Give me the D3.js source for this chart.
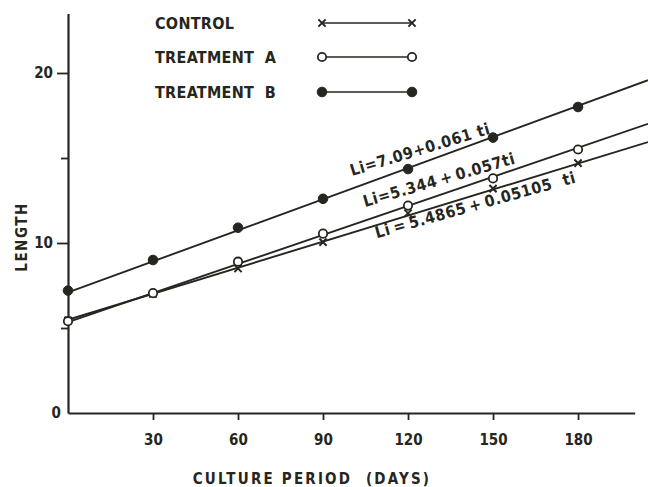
<!DOCTYPE html>
<html>
<head>
<meta charset="utf-8">
<script src="https://cdn.jsdelivr.net/npm/d3@7"></script>
<style>
  html, body { margin: 0; padding: 0; background: #fff; }
  svg { display: block; }
  text { font-family: "DejaVu Sans Condensed", "Liberation Sans", sans-serif; font-weight: bold; fill: #262620; }
</style>
</head>
<body>
<svg id="chart" width="648" height="487"></svg>
<script>
// ---- data ----
const days = [0, 30, 60, 90, 120, 150, 180];
const controlLen = [5.45, 7.0, 8.5, 10.05, 11.75, 13.2, 14.7];
const treatALen  = [5.4, 7.05, 8.9, 10.55, 12.2, 13.8, 15.5];
const treatBLen  = [7.2, 9.0, 10.9, 12.6, 14.35, 16.2, 18.0];
const seriesNames = ["CONTROL", "TREATMENT A", "TREATMENT B"];
const intercepts = [5.4865, 5.344, 7.09];
const slopes = [0.05105, 0.057, 0.061];
const equationLabels = ["Li\u2009=\u20095.4865\u2009+\u20090.05105\u00A0\u00A0ti", "Li=5.344\u2009+\u20090.057ti", "Li=7.09+0.061\u00A0ti"];
const xTicks = [30, 60, 90, 120, 150, 180];
const yMajorTicks = [0, 10, 20];
const yMinorTicks = [5, 15];

// ---- layout ----
const svg = d3.select("#chart");
const ink = "#262620";
const x = d3.scaleLinear().domain([0, 200]).range([68, 634.7]);
const y = d3.scaleLinear().domain([0, 23.5]).range([413, 13.5]);
const tEnd = x.invert(648);

// axes
const gx = svg.append("g").attr("transform", `translate(0,${y(0)})`)
  .call(d3.axisBottom(x).tickValues(xTicks).tickSize(7).tickPadding(14).tickSizeOuter(0));
gx.select(".domain").attr("stroke", ink).attr("stroke-width", 2.2);
gx.selectAll(".tick line").attr("stroke", ink).attr("stroke-width", 1.8);
gx.selectAll(".tick text").style("font-size", "15px").attr("fill", ink);

const gy = svg.append("g").attr("transform", `translate(${x(0)},0)`)
  .call(d3.axisLeft(y).tickValues(yMajorTicks).tickSize(11).tickPadding(4).tickSizeOuter(0));
gy.select(".domain").attr("stroke", ink).attr("stroke-width", 2.2);
gy.selectAll(".tick line").attr("stroke", ink).attr("stroke-width", 1.8);
gy.selectAll(".tick text").style("font-size", "15px").attr("fill", ink);
gy.selectAll(".tick").filter(d => d === 0).select("line").remove();
gy.selectAll(".tick").filter(d => d === 0).select("text").attr("x", -7);

const gyMinor = svg.append("g").attr("transform", `translate(${x(0)},0)`)
  .call(d3.axisLeft(y).tickValues(yMinorTicks).tickSize(7).tickFormat(""));
gyMinor.select(".domain").remove();
gyMinor.selectAll(".tick line").attr("stroke", ink).attr("stroke-width", 1.8);

// axis titles
svg.append("text").attr("x", 312).attr("y", 484)
  .attr("text-anchor", "middle").style("font-size", "15px").style("letter-spacing", "2.2px")
  .style("white-space", "pre").attr("fill", ink)
  .text("CULTURE PERIOD  (DAYS)");
svg.append("text").attr("transform", "translate(27,237) rotate(-90)")
  .attr("text-anchor", "middle").style("font-size", "15px").style("letter-spacing", "1.5px")
  .attr("fill", "#3a2f66")
  .text("LENGTH");

// series
const series = [controlLen, treatALen, treatBLen];
const markers = ["cross", "open", "filled"];

function drawMarker(g, type, cx, cy) {
  if (type === "cross") {
    const s = 3.6;
    g.append("path")
      .attr("d", `M${cx - s},${cy - s}L${cx + s},${cy + s}M${cx - s},${cy + s}L${cx + s},${cy - s}`)
      .attr("stroke", ink).attr("stroke-width", 2);
  } else if (type === "open") {
    g.append("circle").attr("cx", cx).attr("cy", cy).attr("r", 4.2)
      .attr("fill", "#fff").attr("stroke", ink).attr("stroke-width", 1.8);
  } else {
    g.append("circle").attr("cx", cx).attr("cy", cy).attr("r", 4.8)
      .attr("fill", ink).attr("stroke", ink).attr("stroke-width", 1);
  }
}

const line = d3.line().x(d => x(d[0])).y(d => y(d[1]));
series.forEach((vals, i) => {
  const g = svg.append("g");
  const a = intercepts[i], b = slopes[i];
  g.append("path")
    .attr("d", line([[0, a], [tEnd, a + b * tEnd]]))
    .attr("fill", "none").attr("stroke", ink).attr("stroke-width", 1.9);
  days.forEach((t, j) => drawMarker(g, markers[i], x(t), y(vals[j])));
});

// equation labels
const eqPlacement = [
  { t: 109, dy: 13, angle: -15.6 },
  { t: 104.8, dy: -13.5, angle: -16.2 },
  { t: 100.2, dy: -12.5, angle: -17 }
];
eqPlacement.forEach((p, i) => {
  const px = x(p.t), py = y(intercepts[i] + slopes[i] * p.t) + p.dy;
  svg.append("text")
    .attr("transform", `translate(${px},${py}) rotate(${p.angle})`)
    .style("font-size", "16px").style("letter-spacing", "0.6px").style("white-space", "pre")
    .attr("fill", ink)
    .text(equationLabels[i]);
});

// legend
const legendY = [23, 57, 92];
seriesNames.forEach((name, i) => {
  const g = svg.append("g");
  g.append("text").attr("x", 155).attr("y", legendY[i] + 6)
    .style("font-size", "16px").style("letter-spacing", "0.3px").style("white-space", "pre")
    .attr("fill", ink).text(name.replace(" ", "  "));
  g.append("line").attr("x1", 322).attr("x2", 412).attr("y1", legendY[i]).attr("y2", legendY[i])
    .attr("stroke", ink).attr("stroke-width", 1.5);
  drawMarker(g, markers[i], 322, legendY[i]);
  drawMarker(g, markers[i], 412, legendY[i]);
});
</script>
</body>
</html>
